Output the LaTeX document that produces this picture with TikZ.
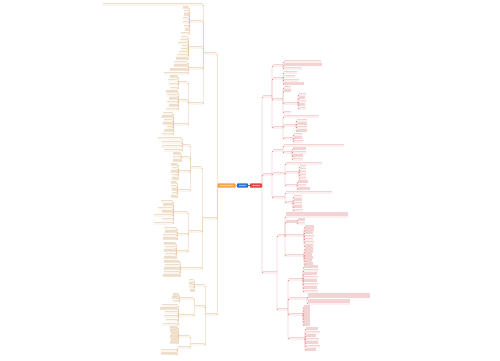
\documentclass[tikz,border=0pt]{standalone}
\definecolor{lline}{RGB}{234,184,128}
\definecolor{ltxt}{RGB}{236,222,204}
\definecolor{rline}{RGB}{228,132,132}
\definecolor{rtxt}{RGB}{243,212,212}
\definecolor{cor}{RGB}{238,160,70}
\definecolor{cbl}{RGB}{40,110,200}
\definecolor{crd}{RGB}{226,60,60}
\tikzset{
 lb/.style={inner sep=0pt, outer sep=0pt, minimum height=2.5pt, minimum width=#1, anchor=south east,
   path picture={\fill[ltxt] ([yshift=0.8pt]path picture bounding box.south west) rectangle (path picture bounding box.north east);}},
 lbb/.style={lb=#1, minimum height=5pt},
 rb/.style={inner sep=0pt, outer sep=0pt, minimum height=2.5pt, minimum width=#1, anchor=south west,
   path picture={\fill[rtxt] ([yshift=0.8pt]path picture bounding box.south west) rectangle (path picture bounding box.north east);}},
 rbb/.style={rb=#1, minimum height=5pt},
 lk/.style={draw=lline, line width=0.45pt, rounded corners=1pt},
 rk/.style={draw=rline, line width=0.45pt, rounded corners=1pt},
 cbox/.style={inner sep=0pt, outer sep=0pt, minimum height=4.2pt, rounded corners=0.6pt,
   path picture={\fill[white,opacity=0.5] ([xshift=2pt,yshift=1.4pt]path picture bounding box.south west) rectangle ([xshift=-2pt,yshift=-1.4pt]path picture bounding box.north east);}}
}
\newcommand\lkc[2]{\draw[lk] (#1.south west) |- (#2.south east) -- (#2.south west);}
\newcommand\rkc[2]{\draw[rk] (#1.south east) |- (#2.south west) -- (#2.south east);}
\newcommand\lleaves[4]{\foreach \yy/\ww [count=\ii] in {#4}{\node[lb=\ww pt] (#2-\ii) at (#3,\yy) {}; \lkc{#1}{#2-\ii}}}
\newcommand\rleaves[4]{\foreach \yy/\ww [count=\ii] in {#4}{\node[rb=\ww pt] (#2-\ii) at (#3,\yy) {}; \rkc{#1}{#2-\ii}}}
\begin{document}
\begin{tikzpicture}[x=1pt,y=-1pt]
\fill[white] (0,0) rectangle (500,360);
\useasboundingbox (0,0) rectangle (500,360);
% centre
\node[cbox, fill=cor, minimum width=18pt] (C1) at (226.5,185.5) {};
\node[cbox, fill=cbl, minimum width=11pt] (C2) at (242.5,185.5) {};
\node[cbox, fill=crd, minimum width=12pt] (C3) at (256,185.5) {};
\draw[cor, line width=0.4pt] (C2.west) -- (C1.east);
\draw[crd, line width=0.4pt] (C2.east) -- (C3.west);
% ===== LEFT =====
\node[lb=13pt] (La) at (216.5,54) {};
\node[lb=14pt] (Lb) at (216.5,219) {};
\node[lb=11pt] (Lc) at (216.5,315) {};
\foreach \n in {La,Lb,Lc}{\draw[lk] (C1.west) |- (\n.south east) -- (\n.south west);}
% La
\node[lb=100pt] (a1) at (202.5,5) {}; \lkc{La}{a1}
\node[lb=13pt] (a2) at (202.5,22) {}; \lkc{La}{a2}
\lleaves{a2}{a2l}{188.5}{8.5/6,12/5,15.5/5,19/6,23/6,27/5,30.5/4,34/8}
\node[lb=14pt] (a3) at (202.5,48) {}; \lkc{La}{a3}
\lleaves{a3}{a3l}{187.5}{38/7,41/8,44/10,47/6,50/7,53/9,56/11,59.5/12}
\node[lb=14pt] (a4) at (202.5,69) {}; \lkc{La}{a4}
\lleaves{a4}{a4l}{187.5}{63/14,66.5/14,70.5/18,74/24}
\node[lb=14pt] (a5) at (202.5,104) {}; \lkc{La}{a5}
\node[lb=9pt] (a5a) at (187.5,83) {}; \lkc{a5}{a5a}
\lleaves{a5a}{a5al}{177.5}{77.5/8,81/10,85/9,89/8}
\node[lb=9pt] (a5b) at (187.5,101) {}; \lkc{a5}{a5b}
\lleaves{a5b}{a5bl}{177.5}{92.5/12,96/11,99.5/9,103/11,106.5/9,110/12}
\node[lb=14pt] (a5c) at (187.5,125) {}; \lkc{a5}{a5c}
\lleaves{a5c}{a5cl}{172.5}{114/10,117.5/11,121/9,124.5/10,128/6,131.5/9,135/11}
% Lb
\node[lb=11pt] (b1) at (201.5,168) {}; \lkc{Lb}{b1}
\node[lb=7pt] (b1a) at (189.5,146) {}; \lkc{b1}{b1a}
\lleaves{b1a}{b1al}{181.5}{139/24,143/20,147/20,151/18}
\node[lb=8pt] (b1b) at (189.5,158) {}; \lkc{b1}{b1b}
\lleaves{b1b}{b1bl}{180.5}{154.5/8,158/8,161.5/8}
\node[lb=11pt] (b1c) at (189.5,172) {}; \lkc{b1}{b1c}
\lleaves{b1c}{b1cl}{177.5}{165.5/7,169/6,172.5/7,176/6,179.5/6}
\node[lb=12pt] (b1d) at (189.5,191) {}; \lkc{b1}{b1d}
\lleaves{b1d}{b1dl}{176.5}{183.5/6,187/6,190.5/5,194/5,197.5/6}
\node[lb=13pt] (b2) at (201.5,232) {}; \lkc{Lb}{b2}
\node[lb=14pt] (b2a) at (187.5,213) {}; \lkc{b2}{b2a}
\lleaves{b2a}{b2al}{172.5}{202/12,205.5/10,209/15,212.5/11,216/19,220/11,224/19}
\node[lb=10pt] (b2b) at (187.5,235) {}; \lkc{b2}{b2b}
\lleaves{b2b}{b2bl}{176.5}{229/13,232.5/12,236/14,239.5/14}
\node[lb=11pt] (b2c) at (187.5,252) {}; \lkc{b2}{b2c}
\lleaves{b2c}{b2cl}{175.5}{244.5/12,248/11,251.5/12,255/11,258.5/12}
\node[lb=21pt] (b3) at (201.5,269) {}; \lkc{Lb}{b3}
\lleaves{b3}{b3l}{179.5}{262.5/16,266/15,269.5/16,273/16,276.5/17}
% Lc
\node[lb=10pt] (c1) at (204.5,286) {}; \lkc{Lc}{c1}
\lleaves{c1}{c1l}{193.5}{281/5,284.5/5,288/5,291.5/4}
\node[lb=10pt] (c2) at (204.5,307) {}; \lkc{Lc}{c2}
\node[lb=14pt] (c2a) at (193.5,299) {}; \lkc{c2}{c2a}
\lleaves{c2a}{c2al}{178.5}{295.5/6,298.5/7,302/6}
\node[lb=15pt] (c2b) at (193.5,316) {}; \lkc{c2}{c2b}
\lleaves{c2b}{c2bl}{177.5}{306/16,309.5/18,313/13,317/14,321/12,325/15}
\node[lb=14pt] (c3) at (204.5,345) {}; \lkc{Lc}{c3}
\node[lb=11pt] (c3a) at (189.5,337) {}; \lkc{c3}{c3a}
\lleaves{c3a}{c3al}{177.5}{328.5/8,331.5/8,334.5/7,337.5/8,340.5/7,343.5/8}
\node[lb=12pt] (c3b) at (189.5,348) {}; \lkc{c3}{c3b}
\lleaves{c3b}{c3bl}{176.5}{351/16,354.5/16}
% ===== RIGHT =====
\node[rb=9pt] (Ra) at (263,97) {};
\node[rb=9pt] (Rb) at (263,175) {};
\node[rb=14pt] (Rc) at (263,273) {};
\foreach \n in {Ra,Rb,Rc}{\draw[rk] (C3.east) |- (\n.south west) -- (\n.south east);}
% Ra
\node[rb=10pt] (ra1) at (273,66) {}; \rkc{Ra}{ra1}
\rleaves{ra1}{ra1l}{284}{62/37,65.5/38,69/18}
\node[rb=10pt] (ra2) at (273,79) {}; \rkc{Ra}{ra2}
\rleaves{ra2}{ra2l}{284}{73/13,77/11,81/15,84.5/20}
\node[rb=10pt] (ra3) at (273,100) {}; \rkc{Ra}{ra3}
\node[rb=7pt] (ra3a) at (284,88) {}; \rkc{ra3}{ra3a}
\node[rb=7pt] (ra3b) at (284,91.5) {}; \rkc{ra3}{ra3b}
\node[rb=14pt] (ra3c) at (284,104) {}; \rkc{ra3}{ra3c}
\rleaves{ra3c}{ra3cl}{299}{95/7,98.5/6,102/7,105.5/6,109/7}
\node[rb=7pt] (ra3d) at (284,113) {}; \rkc{ra3}{ra3d}
\node[rb=10pt] (ra4) at (273,128) {}; \rkc{Ra}{ra4}
\node[rb=35pt] (ra4a) at (284,117) {}; \rkc{ra4}{ra4a}
\node[rb=12pt] (ra4b) at (284,126) {}; \rkc{ra4}{ra4b}
\rleaves{ra4b}{ra4bl}{297}{121/10,124.5/10,128/10,131.5/10}
\node[rb=9pt] (ra4c) at (284,139) {}; \rkc{ra4}{ra4c}
\rleaves{ra4c}{ra4cl}{294}{135/8,138.5/8,142/9}
% Rb
\node[rb=10pt] (rb1) at (273,151) {}; \rkc{Rb}{rb1}
\node[rb=60pt] (rb1a) at (284,146) {}; \rkc{rb1}{rb1a}
\node[rb=8pt] (rb1b) at (284,153) {}; \rkc{rb1}{rb1b}
\rleaves{rb1b}{rb1bl}{293}{149.5/13,153/13,156.5/10,160/10}
\node[rb=12pt] (rb2) at (273,174) {}; \rkc{Rb}{rb2}
\node[rb=36pt] (rb2a) at (286,164) {}; \rkc{rb2}{rb2a}
\node[rb=13pt] (rb2b) at (286,173) {}; \rkc{rb2}{rb2b}
\rleaves{rb2b}{rb2bl}{300}{167/6,170/6,173/6,176/6,179/6}
\node[rb=11pt] (rb2c) at (286,186) {}; \rkc{rb2}{rb2c}
\rleaves{rb2c}{rb2cl}{298}{182.5/10,186/8,189.5/12}
\node[rb=12pt] (rb3) at (273,198) {}; \rkc{Rb}{rb3}
\node[rb=46pt] (rb3a) at (286,193) {}; \rkc{rb3}{rb3a}
\node[rb=7pt] (rb3b) at (286,203) {}; \rkc{rb3}{rb3b}
\rleaves{rb3b}{rb3bl}{294}{197/8,200.5/8,204/8,207.5/8,211/9}
% Rc
\node[rb=7pt] (s1) at (278,236) {}; \rkc{Rc}{s1}
\node[rbb=62pt] (s1a) at (286,217) {}; \rkc{s1}{s1a}
\node[rb=11pt] (s1b) at (286,222.5) {}; \rkc{s1}{s1b}
\rleaves{s1b}{s1bl}{298}{220.5/7,224/7}
\node[rb=18pt] (s1c) at (286,236) {}; \rkc{s1}{s1c}
\rleaves{s1c}{s1cl}{305}{227.5/9,230.5/9,233.5/8,237/9,240/8,243/9,246.5/8}
\node[rb=18pt] (s1d) at (286,256) {}; \rkc{s1}{s1d}
\rleaves{s1d}{s1dl}{305}{249.5/8,252.5/8,255.5/7,258.5/8,261.5/7,264.5/8}
\node[rb=10pt] (s2) at (278,310) {}; \rkc{Rc}{s2}
\node[rb=14pt] (s2a) at (289,280) {}; \rkc{s2}{s2a}
\rleaves{s2a}{s2al}{304}{267.5/14,271/14,274.5/13,278/14,281.5/13,285/14,288.5/13,292/14}
\node[rb=18pt] (s2b) at (289,299) {}; \rkc{s2}{s2b}
\node[rbb=62pt] (s2b1) at (308,297.5) {}; \rkc{s2b}{s2b1}
\node[rbb=42pt] (s2b2) at (308,304) {}; \rkc{s2b}{s2b2}
\node[rb=14pt] (s2c) at (289,315) {}; \rkc{s2}{s2c}
\rleaves{s2c}{s2cl}{304}{307.5/6,310.5/6,313.5/6,316.5/6,319.5/6,322.5/6,325.5/6}
\node[rb=16pt] (s2d) at (289,339) {}; \rkc{s2}{s2d}
\rleaves{s2d}{s2dl}{306}{329.5/12,333/14,336.5/10,340/13,343.5/12,347/14,350.5/10}
\end{tikzpicture}
\end{document}
